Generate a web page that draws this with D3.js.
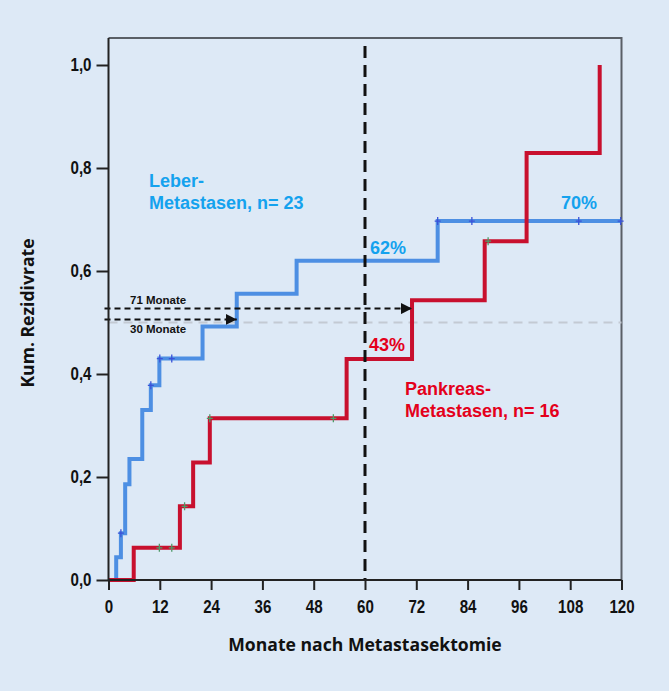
<!DOCTYPE html>
<html><head><meta charset="utf-8">
<script src="https://cdn.jsdelivr.net/npm/d3@7"></script>
<style>html,body{margin:0;padding:0;background:#dde9f6;} svg{display:block}</style>
</head><body>
<svg id="chart" width="669" height="691"></svg>
<script>
// ---- data ----
const xTicks = [0, 12, 24, 36, 48, 60, 72, 84, 96, 108, 120];
const yTicks = [0, 0.2, 0.4, 0.6, 0.8, 1.0];
const yTickLabels = ["0,0", "0,2", "0,4", "0,6", "0,8", "1,0"];

const leberTimes  = [0, 1.8, 2.9, 3.9, 4.9, 7.9, 9.9, 11.9, 22.0, 30.0, 44.0, 77.0, 120];
const leberValues = [0, 0.044, 0.091, 0.186, 0.235, 0.33, 0.378, 0.43, 0.492, 0.556, 0.62, 0.697, 0.697];
const leberCensorTimes  = [2.9, 9.9, 12.0, 14.8, 77.0, 85.0, 110.0, 119.8];
const leberCensorValues = [0.091, 0.378, 0.43, 0.43, 0.697, 0.697, 0.697, 0.697];

const pankTimes  = [0, 5.9, 16.7, 19.8, 23.7, 55.7, 71.0, 88.0, 97.8, 114.9];
const pankValues = [0, 0.0625, 0.143, 0.228, 0.314, 0.429, 0.543, 0.658, 0.829, 1.0];
const pankCensorTimes  = [11.9, 14.8, 17.8, 23.7, 52.6, 88.8];
const pankCensorValues = [0.0625, 0.0625, 0.143, 0.314, 0.314, 0.658];

const medianLevel = 0.5;
const cutMonth = 60;
const arrowMonths = [30, 71];
const arrowLevels = [0.506, 0.527];
const arrowLabels = ["30 Monate", "71 Monate"];

// ---- layout ----
const svg = d3.select("#chart");
const x = d3.scaleLinear().domain([0, 120]).range([108.5, 621.5]);
const y = d3.scaleLinear().domain([0, 1]).range([580, 65]);
const frameTop = 38;

const BLUE_LINE = "#4d8fe3", RED_LINE = "#c8102e";
const BLUE_TXT = "#14a2ee", RED_TXT = "#e4001b";

svg.append("rect").attr("width", 669).attr("height", 691).attr("fill", "#dde9f6");

const defs = svg.append("defs");
defs.append("marker").attr("id", "arr").attr("viewBox", "0 0 10 10")
  .attr("refX", 10).attr("refY", 5).attr("markerWidth", 11).attr("markerHeight", 11)
  .attr("markerUnits", "userSpaceOnUse").attr("orient", "auto")
  .append("path").attr("d", "M0,0L10,5L0,10Z").attr("fill", "#111");

// frame (top and right)
svg.append("path")
  .attr("d", `M${x(0)},${frameTop}H${x(120)}V${y(0)}`)
  .attr("fill", "none").attr("stroke", "#5a5f66").attr("stroke-width", 2);

// grey dashed 50% line
svg.append("line").attr("x1", x(0)).attr("x2", x(120))
  .attr("y1", y(medianLevel)).attr("y2", y(medianLevel))
  .attr("stroke", "#c3cad3").attr("stroke-width", 2).attr("stroke-dasharray", "9,6");

// curves
const line = d3.line().x(d => x(d[0])).y(d => y(d[1])).curve(d3.curveStepAfter);
const leberPts = leberTimes.map((t, i) => [t, leberValues[i]]);
const pankPts = pankTimes.map((t, i) => [t, pankValues[i]]);

svg.append("path").attr("d", line(leberPts)).attr("fill", "none")
  .attr("stroke", BLUE_LINE).attr("stroke-width", 4).attr("stroke-linejoin", "miter");
leberCensorTimes.forEach((t, i) => {
  const cx = x(t), cy = y(leberCensorValues[i]);
  svg.append("path").attr("d", `M${cx},${cy-4}V${cy+4}M${cx-3},${cy}H${cx+3}`)
    .attr("stroke", "#3b52d8").attr("stroke-width", 1.3).attr("fill", "none");
});

svg.append("path").attr("d", line(pankPts)).attr("fill", "none")
  .attr("stroke", RED_LINE).attr("stroke-width", 4).attr("stroke-linejoin", "miter");
pankCensorTimes.forEach((t, i) => {
  const cx = x(t), cy = y(pankCensorValues[i]);
  svg.append("path").attr("d", `M${cx},${cy-4}V${cy+4}M${cx-3},${cy}H${cx+3}`)
    .attr("stroke", "#4f9a68").attr("stroke-width", 1.3).attr("fill", "none");
});

// vertical dashed line at 60 months
svg.append("line").attr("x1", x(cutMonth)).attr("x2", x(cutMonth))
  .attr("y1", 46).attr("y2", y(0))
  .attr("stroke", "#111").attr("stroke-width", 3).attr("stroke-dasharray", "12,7");

// arrows
arrowMonths.forEach((m, i) => {
  svg.append("line").attr("x1", x(0) - 4).attr("x2", x(m))
    .attr("y1", y(arrowLevels[i])).attr("y2", y(arrowLevels[i]))
    .attr("stroke", "#111").attr("stroke-width", 2).attr("stroke-dasharray", "6,4")
    .attr("marker-end", "url(#arr)");
});
svg.append("text").attr("x", 130).attr("y", 304).text(arrowLabels[1])
  .attr("font-family", "Liberation Sans, Arial, sans-serif").attr("font-weight", 700)
  .attr("font-size", 11.5).attr("fill", "#111");
svg.append("text").attr("x", 130).attr("y", 333).text(arrowLabels[0])
  .attr("font-family", "Liberation Sans, Arial, sans-serif").attr("font-weight", 700)
  .attr("font-size", 11.5).attr("fill", "#111");

// axes
const tickFont = "'Liberation Sans', Arial, sans-serif";
const sx = 0.84;
const xAxis = svg.append("g").attr("transform", `translate(0,${y(0)})`)
  .call(d3.axisBottom(x).tickValues(xTicks).tickSize(10).tickPadding(8).tickSizeOuter(0));
const yAxis = svg.append("g").attr("transform", `translate(${x(0)},0)`)
  .call(d3.axisLeft(y).tickValues(yTicks).tickFormat((d, i) => yTickLabels[i]).tickSize(12).tickPadding(5).tickSizeOuter(0));
[xAxis, yAxis].forEach(g => {
  g.select(".domain").remove();
  g.selectAll(".tick line").attr("stroke", "#222").attr("stroke-width", 2);
  g.selectAll(".tick text").attr("font-family", tickFont).attr("font-weight", 700)
    .attr("font-size", 18).attr("fill", "#111")
    .attr("transform", `scale(${sx},1)`);
});
xAxis.selectAll(".tick text").attr("y", 20);
yAxis.selectAll(".tick text").attr("x", -17 / sx);

// axis lines
svg.append("path").attr("d", `M${x(0)},${frameTop}V${y(0)}H${x(120)}`)
  .attr("fill", "none").attr("stroke", "#222").attr("stroke-width", 2);

// axis titles
svg.append("text").attr("x", 365).attr("y", 651).attr("text-anchor", "middle")
  .attr("font-family", "'Open Sans', sans-serif").attr("font-weight", 700)
  .attr("font-size", 17.6).attr("fill", "#111").text("Monate nach Metastasektomie");
svg.append("text").attr("transform", "translate(34,313) rotate(-90)").attr("text-anchor", "middle")
  .attr("font-family", "'Open Sans', sans-serif").attr("font-weight", 700)
  .attr("font-size", 17.6).attr("fill", "#111").text("Kum. Rezidivrate");

// annotations
const lab = (tx, ty, s, c) => svg.append("text").attr("x", tx).attr("y", ty).text(s)
  .attr("font-family", "'Liberation Sans', Arial, sans-serif").attr("font-weight", 700)
  .attr("font-size", 18).attr("fill", c);
lab(149, 187, "Leber-", BLUE_TXT);
lab(149, 208.5, "Metastasen, n= 23", BLUE_TXT);
lab(370, 254, "62%", BLUE_TXT);
lab(561, 209, "70%", BLUE_TXT);
lab(369, 351, "43%", RED_TXT);
lab(405, 395, "Pankreas-", RED_TXT);
lab(405, 417, "Metastasen, n= 16", RED_TXT);
</script>
</body></html>
